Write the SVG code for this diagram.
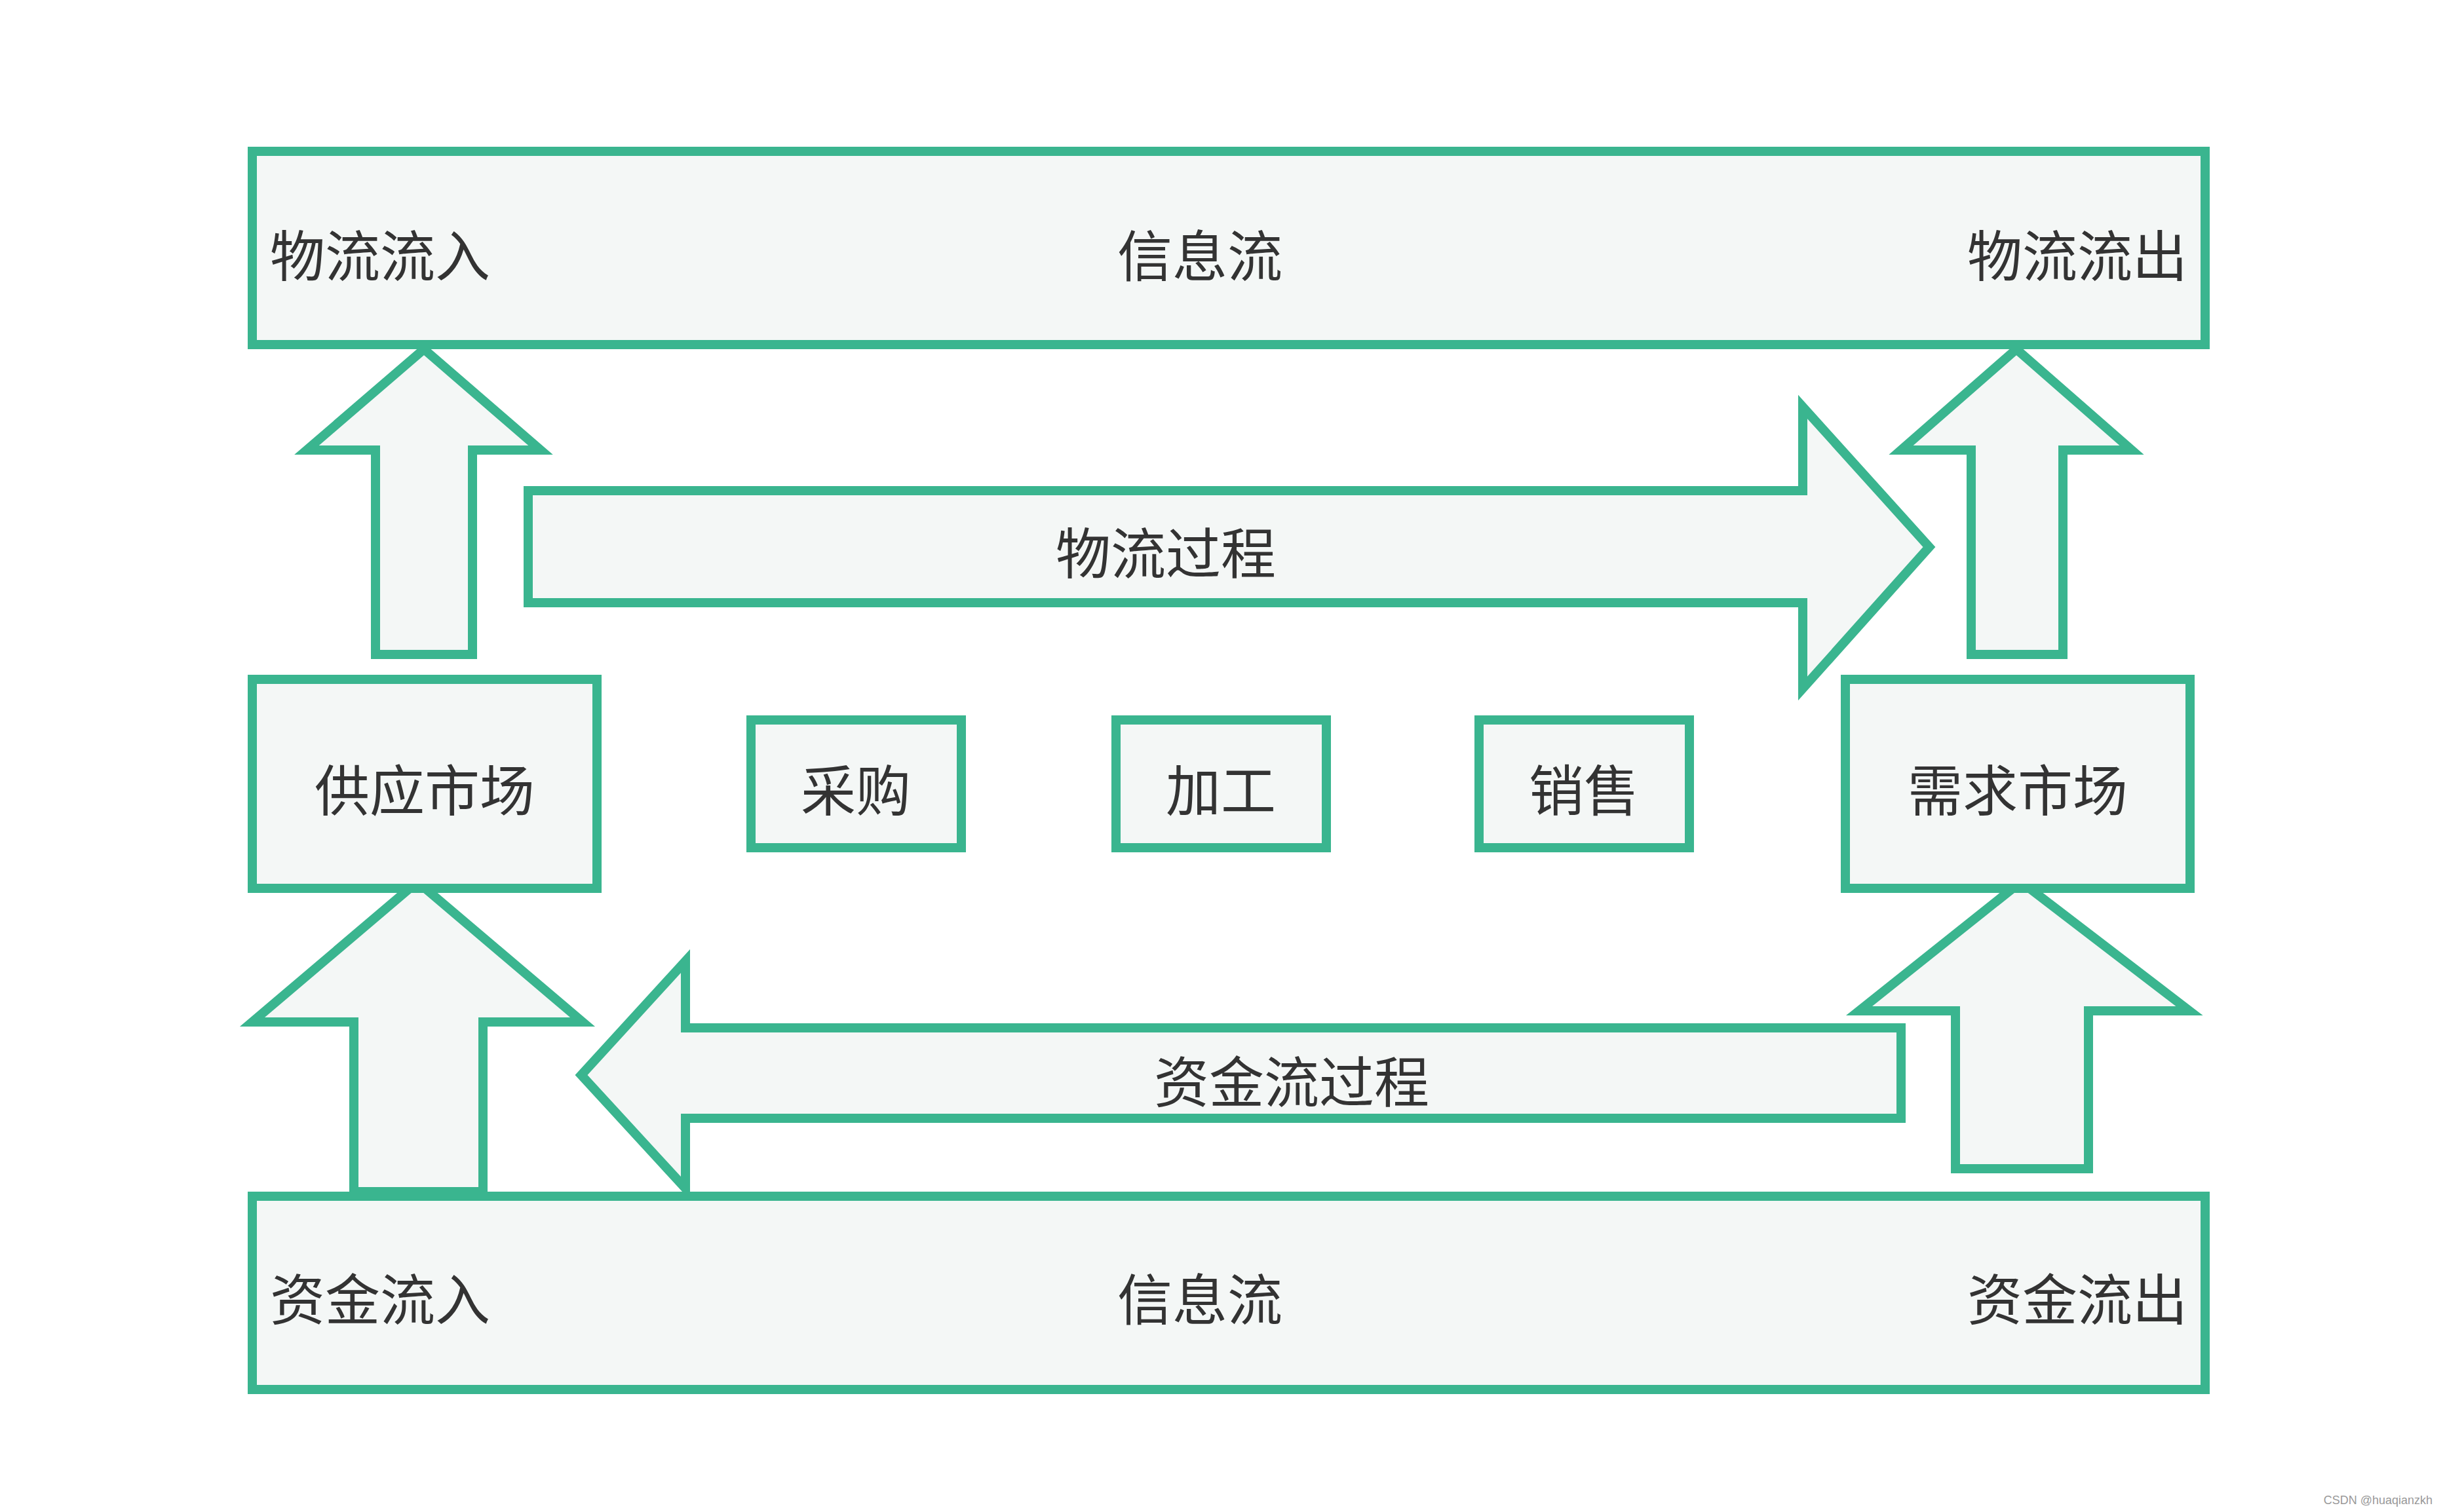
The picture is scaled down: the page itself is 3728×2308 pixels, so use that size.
<svg xmlns="http://www.w3.org/2000/svg" width="3728" height="2308" viewBox="0 0 3728 2308">
<style>
.s{fill:#f4f7f6;stroke:#3ab58f;stroke-width:14;stroke-linejoin:miter}
.t{font-family:"Noto Sans CJK SC","Noto Sans",sans-serif;font-size:84px;fill:#333;dominant-baseline:central}
</style>
<rect width="3728" height="2308" fill="#fff"/>
<g id="connectors">
<polygon class="s" points="647,533 825,687 721,687 721,999 573,999 573,687 468,687"/>
<polygon class="s" points="3077,533 3253,687 3148,687 3148,999 3008,999 3008,687 2901,687"/>
<polygon class="s" points="806,749 2751,749 2751,621 2944,835 2751,1051 2751,920 806,920"/>
<polygon class="s" points="887,1641 1046,1467 1046,1569 2901,1569 2901,1707 1046,1707 1046,1814"/>
<polygon class="s" points="637,1346 889,1560 737,1560 737,1819 540,1819 540,1560 385,1560"/>
<polygon class="s" points="3084,1346 3341,1543 3187,1543 3187,1784 2984,1784 2984,1543 2837,1543"/>
<text class="t" x="1779" y="839" text-anchor="middle">物流过程</text>
<text class="t" x="1971" y="1646" text-anchor="middle">资金流过程</text>
</g>
<g id="top"><rect class="s" x="385" y="231" width="2980" height="295"/>
<text class="t" x="412" y="385">物流流入</text>
<text class="t" x="1831" y="385" text-anchor="middle">信息流</text>
<text class="t" x="3338" y="385" text-anchor="end">物流流出</text></g>
<g id="bottom"><rect class="s" x="385" y="1826" width="2980" height="295"/>
<text class="t" x="412" y="1978">资金流入</text>
<text class="t" x="1831" y="1978" text-anchor="middle">信息流</text>
<text class="t" x="3338" y="1978" text-anchor="end">资金流出</text></g>
<g id="supply"><rect class="s" x="385" y="1037" width="526" height="319"/><text class="t" x="648" y="1201" text-anchor="middle">供应市场</text></g>
<g id="demand"><rect class="s" x="2816" y="1037" width="526" height="319"/><text class="t" x="3079" y="1201" text-anchor="middle">需求市场</text></g>
<g id="buy"><rect class="s" x="1146" y="1099" width="321" height="195"/><text class="t" x="1306" y="1201" text-anchor="middle">采购</text></g>
<g id="proc"><rect class="s" x="1703" y="1099" width="321" height="195"/><text class="t" x="1863" y="1201" text-anchor="middle">加工</text></g>
<g id="sell"><rect class="s" x="2257" y="1099" width="321" height="195"/><text class="t" x="2417" y="1201" text-anchor="middle">销售</text></g>
<text x="3712" y="2296" text-anchor="end" font-family="Liberation Sans,sans-serif" font-size="18" fill="#999">CSDN @huaqianzkh</text>
</svg>
